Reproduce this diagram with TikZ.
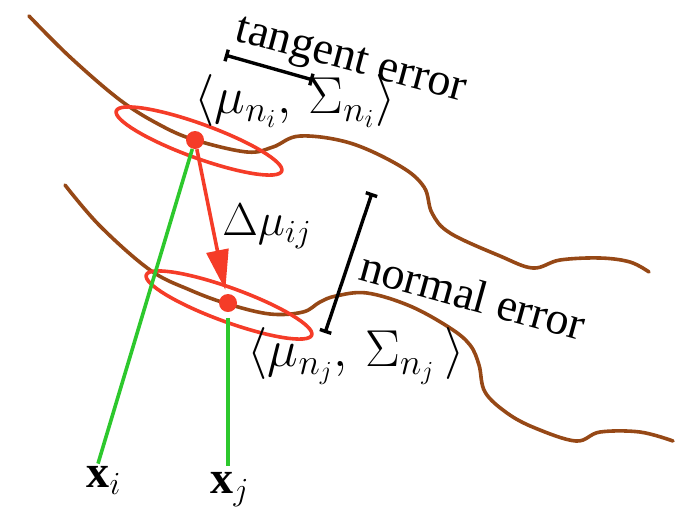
\RequirePackage{fix-cm}
\documentclass[tikz,border=0pt]{standalone}
\usepackage{fontspec}
\setmainfont{Liberation Serif}
\usepackage{amsmath}
\usepackage{tikz}
\usetikzlibrary{arrows.meta,calc}

\definecolor{manifoldbrown}{RGB}{150,72,22}
\definecolor{gaussred}{RGB}{245,60,40}
\definecolor{raygreen}{RGB}{45,200,45}

\begin{document}
\begin{tikzpicture}[
  x=0.5pt, y=-0.5pt,
  font=\fontsize{23}{27}\selectfont,
  manifold/.style={draw=manifoldbrown, line width=1.8pt, line cap=round},
  gauss/.style={draw=gaussred, line width=1.8pt},
  dot/.style={circle, fill=gaussred, inner sep=0pt, minimum size=9pt},
  ray/.style={draw=raygreen, line width=1.8pt},
  errbar/.style={draw=black, line width=1.7pt, {Bar[width=6pt]}-{Bar[width=6pt]}},
  lbl/.style={inner sep=1pt},
  big/.style={lbl, font=\fontsize{26}{30}\selectfont},
]
\useasboundingbox (0,0) rectangle (678,509);

% ---------- surfaces ----------
\draw[manifold] plot[smooth, tension=0.6] coordinates {
  (29,16) (70,57) (120,100) (160,125) (195,140) (247,152) (273,147)
  (300,136) (350,143) (400,166) (424,187) (432,213) (450,233)
  (500,256) (533,268) (560,260) (600,258) (630,262) (649,272)};
\draw[manifold] plot[smooth, tension=0.6] coordinates {
  (65,185) (100,226) (150,270) (190,290) (228,304) (270,314) (303,312)
  (320,302) (336,296) (367,293) (410,306) (450,328) (470,345)
  (479,365) (485,392) (507,413) (535,428) (576,441) (600,432)
  (640,432) (673,441)};

% ---------- gaussians ----------
\coordinate (ci) at (199,141);
\coordinate (cj) at (229,305);
\draw[gauss] (ci) ellipse [x radius=88, y radius=17, rotate=-20];
\draw[gauss] (cj) ellipse [x radius=88, y radius=17, rotate=-20];

\node[dot] (mi) at (195,140) {};
\node[dot] (mj) at (228,303) {};

\node[big] (si) at (295,101) {$\langle\mu_{n_i},\,\Sigma_{n_i}\rangle$};
\node[big] (sj) at (356,356) {$\langle\mu_{n_j},\,\Sigma_{n_j}\,\rangle$};

% ---------- points ----------
\node[lbl] (xi) at (104,480) {$\mathbf{x}_i$};
\node[lbl] (xj) at (230,490) {$\mathbf{x}_j$};

\draw[ray] (mi) -- ([xshift=-3pt]xi.north);
\draw[ray, shorten <=3pt, shorten >=2pt] (mj) -- (mj |- xj.north);

% ---------- offset ----------
\draw[draw=gaussred, line width=1.8pt,
      -{Triangle[length=20pt, width=11pt]}, shorten >=2pt] (mi) -- (mj);
\node[lbl] (dmu) at (267,226) {$\Delta\mu_{ij}$};

% ---------- errors ----------
\coordinate (te1) at (225,55);
\coordinate (te2) at (313,80);
\draw[errbar] (te1) -- (te2);
\node[lbl, rotate=-15] (tang) at (350,63) {tangent error};

\coordinate (ne1) at (372,193);
\coordinate (ne2) at (325,333);
\draw[errbar] (ne1) -- (ne2);
\node[lbl, rotate=-15.5] (norm) at (473,295) {normal error};

\end{tikzpicture}
\end{document}
